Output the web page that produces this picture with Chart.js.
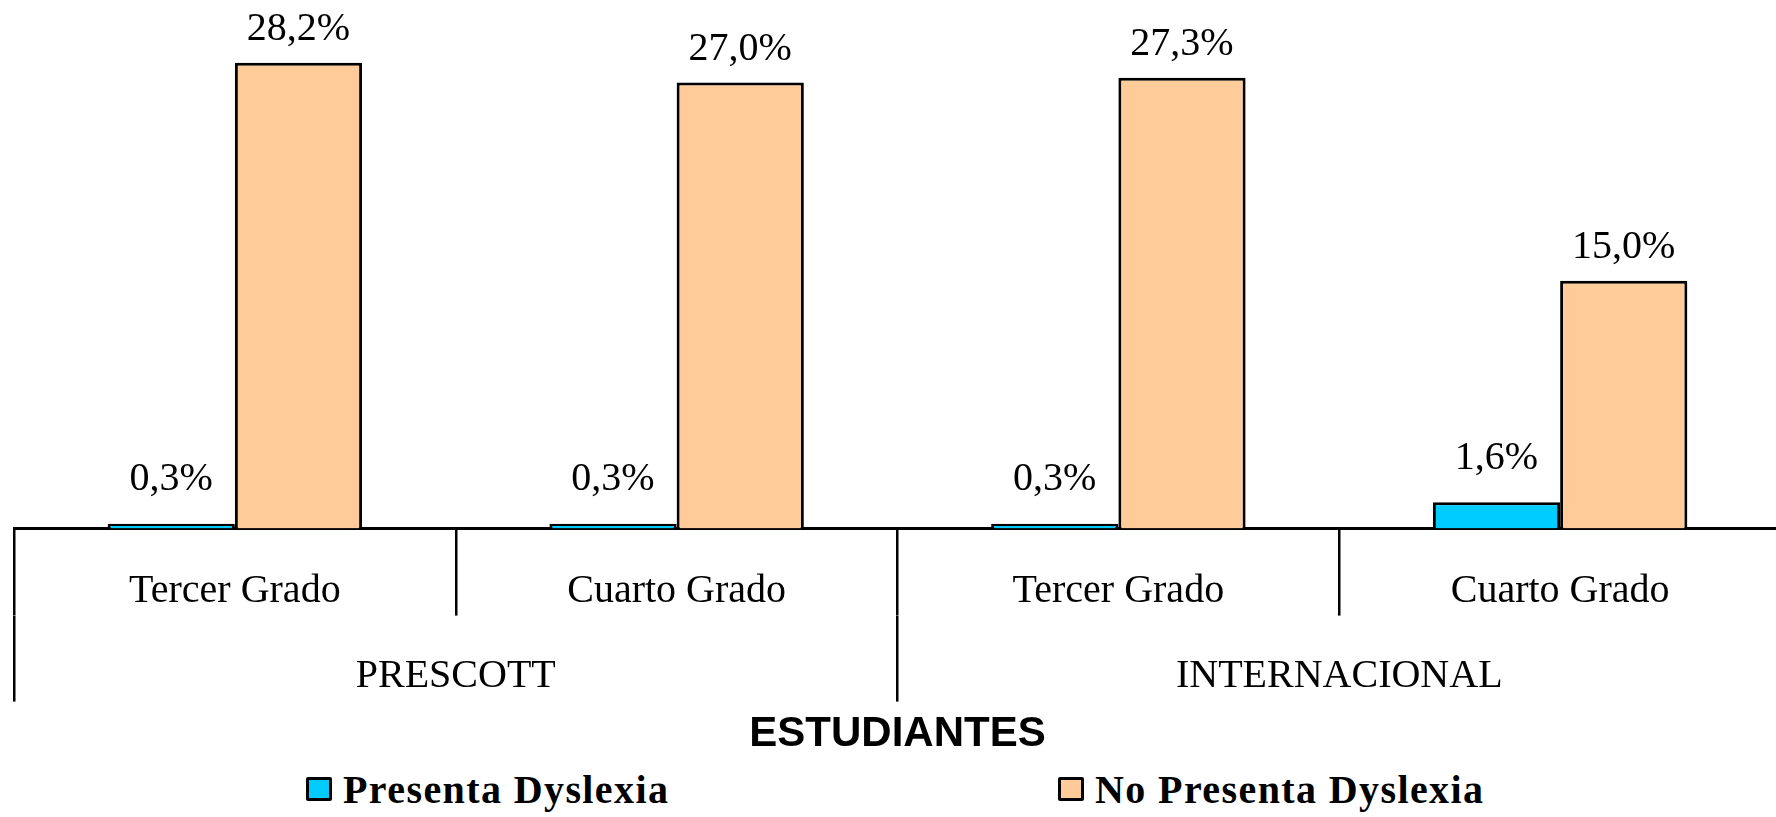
<!DOCTYPE html>
<html>
<head>
<meta charset="utf-8">
<script src="https://cdn.jsdelivr.net/npm/chart.js@4.4.1/dist/chart.umd.min.js"></script>
<style>
  html, body { margin:0; padding:0; background:#fff; overflow:hidden; width:1776px; height:817px; }
  #wrap { position:relative; width:1776px; height:817px; }
  canvas { display:block; }
  .lg { position:absolute; top:761px; height:56px; display:flex; align-items:center;
        font-family:'Liberation Serif','Times New Roman',serif; font-weight:bold; font-size:40px;
        letter-spacing:1.4px; color:#000; white-space:nowrap; }
  .lg i { display:inline-block; width:20px; height:18px; border:3px solid #000; border-radius:2px; margin-right:11px; }
</style>
</head>
<body>
<div id="wrap">
  <canvas id="chart" width="1781" height="761"></canvas>
  <div class="lg" style="left:306px"><i style="background:#00CCFF"></i>Presenta Dyslexia</div>
  <div class="lg" style="left:1058px"><i style="background:#FFCC99"></i>No Presenta Dyslexia</div>
</div>
<script>
// ─── Data ─────────────────────────────────────────────────────────────────────
const GRADES   = ['Tercer Grado', 'Cuarto Grado', 'Tercer Grado', 'Cuarto Grado'];
const SCHOOLS  = ['PRESCOTT', 'INTERNACIONAL'];
const SERIES   = ['Presenta Dyslexia', 'No Presenta Dyslexia'];
const PRESENTA    = [0.3, 0.3, 0.3, 1.6];
const NO_PRESENTA = [28.2, 27.0, 27.3, 15.0];
const AXIS_TITLE = 'ESTUDIANTES';

// ─── Style ────────────────────────────────────────────────────────────────────
const SERIF = "'Liberation Serif', 'Times New Roman', serif";
const TICK_FONT = { family: SERIF, size: 40 };
const LABEL_OFFSET = [44, 33];   // gap from bar top to label centre, per series

const barLabels = {
  id: 'barLabels',
  afterDatasetsDraw(chart) {
    const ctx = chart.ctx;
    ctx.save();
    ctx.font = `40px ${SERIF}`;
    ctx.fillStyle = '#000';
    ctx.textAlign = 'center';
    ctx.textBaseline = 'middle';
    chart.data.datasets.forEach((ds, di) => {
      chart.getDatasetMeta(di).data.forEach((bar, i) => {
        const txt = ds.data[i].toFixed(1).replace('.', ',') + '%';
        ctx.fillText(txt, bar.x, bar.y - LABEL_OFFSET[di]);
      });
    });
    ctx.restore();
  }
};

new Chart(document.getElementById('chart').getContext('2d'), {
  type: 'bar',
  data: {
    labels: GRADES,
    datasets: [
      { label: SERIES[0], data: PRESENTA, backgroundColor: '#00CCFF', borderColor: '#000', borderWidth: 3,
        categoryPercentage: 0.576, barPercentage: 1.0 },
      { label: SERIES[1], data: NO_PRESENTA, backgroundColor: '#FFCC99', borderColor: '#000', borderWidth: 3,
        categoryPercentage: 0.576, barPercentage: 1.0 },
    ]
  },
  options: {
    responsive: false,
    animation: false,
    layout: { padding: { left: 14, right: 0, top: 0, bottom: 0 } },
    plugins: { legend: { display: false }, tooltip: { enabled: false } },
    scales: {
      y: { display: false, min: 0, max: 32 },
      x: {
        position: 'bottom',
        offset: true,
        grid: { offset: true, drawOnChartArea: false, drawTicks: true, tickLength: 87, color: '#000', lineWidth: 2.5 },
        border: { display: true, color: '#000', width: 3 },
        ticks: { font: TICK_FONT, color: '#000', padding: -48, maxRotation: 0, autoSkip: false },
        // empty title only reserves room so the grade labels sit inside this axis box
        title: { display: true, text: ' ', color: 'rgba(0,0,0,0)', font: { size: 10 }, padding: { top: 36, bottom: 0 } }
      },
      x2: {
        type: 'category',
        labels: SCHOOLS,
        position: 'bottom',
        offset: true,
        grid: { offset: true, drawOnChartArea: false, drawTicks: true, tickLength: 86, color: '#000', lineWidth: 2.5 },
        border: { display: false },
        ticks: { font: TICK_FONT, color: '#000', padding: -49, maxRotation: 0, autoSkip: false },
        title: { display: true, text: AXIS_TITLE, color: '#000',
                 font: { family: "'Liberation Sans', Arial, sans-serif", size: 42, weight: 'bold' },
                 padding: { top: 58, bottom: 1 } }
      }
    }
  },
  plugins: [barLabels]
});
</script>
</body>
</html>
